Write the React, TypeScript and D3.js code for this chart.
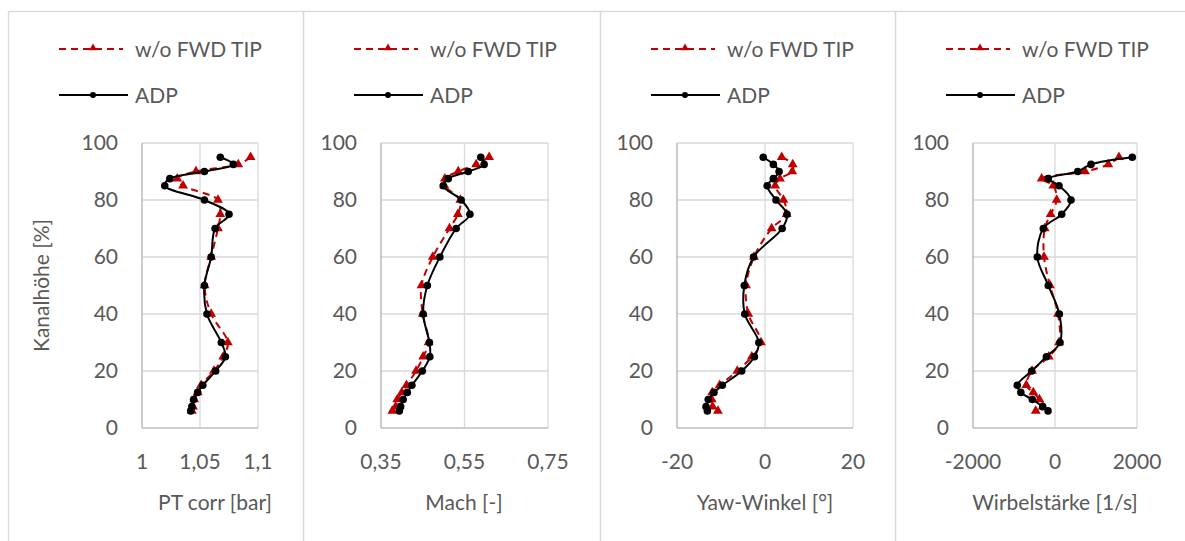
import React from 'react';
import * as d3 from 'd3';

// Kanalhöhe [%] of each traverse point
const heights = [95, 92.5, 90, 87.5, 85, 80, 75, 70, 60, 50, 40, 30, 25, 20, 15, 12.5, 10, 7.5, 6];

const ptAdp = [1.0675, 1.0787, 1.0538, 1.024, 1.0196, 1.0538, 1.075, 1.063, 1.0596, 1.0538, 1.056, 1.0684, 1.0719, 1.0635, 1.0524, 1.048, 1.0445, 1.043, 1.042];
const ptNoTip = [1.0936, 1.083, 1.0465, 1.0304, 1.0354, 1.0655, 1.0675, 1.0655, 1.0596, 1.054, 1.0596, 1.074, 1.07, 1.062, 1.051, 1.048, 1.045, 1.044, 1.043];

const machAdp = [0.589, 0.597, 0.559, 0.511, 0.499, 0.542, 0.563, 0.53, 0.491, 0.461, 0.451, 0.466, 0.467, 0.449, 0.424, 0.413, 0.403, 0.397, 0.394];
const machNoTip = [0.609, 0.578, 0.535, 0.503, 0.502, 0.54, 0.534, 0.514, 0.474, 0.447, 0.45, 0.464, 0.451, 0.434, 0.411, 0.4, 0.389, 0.385, 0.377];

const yawAdp = [-0.4, 1.9, 3.2, 1.9, 0.5, 2.5, 5.0, 3.9, -2.6, -4.7, -4.6, -1.4, -2.4, -5.3, -9.7, -11.6, -12.9, -13.4, -13.1];
const yawNoTip = [3.8, 6.3, 6.2, 3.4, 2.3, 4.2, 4.9, 1.5, -2.5, -4.3, -3.8, -0.9, -3.0, -6.3, -10.3, -12.0, -12.1, -11.9, -10.7];

const vortAdp = [1885, 878, 553, -163, 98, 390, 163, -285, -431, -163, 105, 122, -210, -568, -920, -833, -553, -300, -170];
const vortNoTip = [1560, 1300, 732, -325, -41, 41, -106, -250, -268, -122, 73, 98, -150, -560, -700, -530, -380, -300, -470];

const yTicks = [0, 20, 40, 60, 80, 100];
const seriesNames = ['w/o FWD TIP', 'ADP'];

const ptTicks = [1, 1.05, 1.1];
const machTicks = [0.35, 0.55, 0.75];
const yawTicks = [-20, 0, 20];
const vortTicks = [-2000, 0, 2000];

// German decimal comma
const fmt = (v: number) => String(v).replace('.', ',');

const RED = '#C00000';
const GRID = '#d9d9d9';
const TEXT = '#595959';
const FONT = 'Lato, "Open Sans", sans-serif';

const panels = [
  { box: 8, boxW: 295, left: 142, right: 258, title: 'PT corr [bar]', titleX: 215, ticks: ptTicks, adp: ptAdp, noTip: ptNoTip, yTitle: true },
  { box: 303, boxW: 297, left: 381, right: 548, title: 'Mach [-]', titleX: 464, ticks: machTicks, adp: machAdp, noTip: machNoTip, yTitle: false },
  { box: 600, boxW: 295, left: 677, right: 853, title: 'Yaw-Winkel [°]', titleX: 765, ticks: yawTicks, adp: yawAdp, noTip: yawNoTip, yTitle: false },
  { box: 895, boxW: 300, left: 973, right: 1137, title: 'Wirbelstärke [1/s]', titleX: 1055, ticks: vortTicks, adp: vortAdp, noTip: vortNoTip, yTitle: false },
];

const TOP = 143;
const BOTTOM = 428;

const y = d3.scaleLinear().domain([0, 100]).range([BOTTOM, TOP]);
const tri = d3.symbol(d3.symbolTriangle, 42)();
const triSmall = d3.symbol(d3.symbolTriangle, 26)();

function Panel({ p }: { p: typeof panels[number] }) {
  const x = d3.scaleLinear().domain([p.ticks[0], p.ticks[p.ticks.length - 1]]).range([p.left, p.right]);
  const line = d3.line<number>()
    .x(d => x(d))
    .y((_, i) => y(heights[i]))
    .curve(d3.curveCatmullRom);
  const lx = p.box + 51;
  return (
    <g>
      <rect x={p.box + 0.5} y={11.5} width={p.boxW} height={560} fill="none" stroke={GRID} strokeWidth={1.3} />
      {/* legend */}
      <line x1={lx} x2={lx + 64} y1={49} y2={49} stroke={RED} strokeWidth={2} strokeDasharray="7,5" />
      <path d={triSmall} transform={`translate(${lx + 34},48)`} fill={RED} />
      <text x={lx + 76} y={57} fill={TEXT} fontSize={21} fontFamily={FONT}>{seriesNames[0]}</text>
      <line x1={lx} x2={lx + 69} y1={95} y2={95} stroke="#000" strokeWidth={2} />
      <circle cx={lx + 34} cy={95} r={3} fill="#000" />
      <text x={lx + 76} y={103} fill={TEXT} fontSize={21} fontFamily={FONT}>{seriesNames[1]}</text>

      {/* grid */}
      {yTicks.slice(1).map(t => (
        <line key={'h' + t} x1={p.left} x2={p.right} y1={y(t)} y2={y(t)} stroke={GRID} strokeWidth={1.3} />
      ))}
      {p.ticks.slice(1).map(t => (
        <line key={'v' + t} x1={x(t)} x2={x(t)} y1={TOP} y2={BOTTOM} stroke={GRID} strokeWidth={1.3} />
      ))}
      <line x1={p.left} x2={p.left} y1={TOP} y2={BOTTOM} stroke="#bfbfbf" strokeWidth={1.6} />
      <line x1={p.left} x2={p.right} y1={BOTTOM} y2={BOTTOM} stroke="#bfbfbf" strokeWidth={1.6} />

      {/* tick labels */}
      {yTicks.map(t => (
        <text key={'yl' + t} x={p.left - 24} y={y(t)} dy="0.35em" textAnchor="end" fill={TEXT} fontSize={21} fontFamily={FONT}>{t}</text>
      ))}
      {p.ticks.map(t => (
        <text key={'xl' + t} x={x(t)} y={469} textAnchor="middle" fill={TEXT} fontSize={21} fontFamily={FONT}>{fmt(t)}</text>
      ))}
      <text x={p.titleX} y={510} textAnchor="middle" fill={TEXT} fontSize={21} fontFamily={FONT}>{p.title}</text>
      {p.yTitle && (
        <text transform={`translate(49,${(TOP + BOTTOM) / 2}) rotate(-90)`} textAnchor="middle" fill={TEXT} fontSize={21} fontFamily={FONT}>Kanalhöhe [%]</text>
      )}

      {/* series */}
      <path d={line(p.noTip) || ''} fill="none" stroke={RED} strokeWidth={2} strokeDasharray="7,5" />
      {p.noTip.map((v, i) => (
        <path key={'t' + i} d={tri} transform={`translate(${x(v)},${y(heights[i])})`} fill={RED} />
      ))}
      <path d={line(p.adp) || ''} fill="none" stroke="#000" strokeWidth={2} />
      {p.adp.map((v, i) => (
        <circle key={'c' + i} cx={x(v)} cy={y(heights[i])} r={3.8} fill="#000" />
      ))}
    </g>
  );
}

export default function App() {
  return (
    <svg width={1185} height={541} style={{ position: 'absolute', left: 0, top: 0, background: '#fff' }}>
      <rect width={1185} height={541} fill="#fff" />
      {panels.map((p, i) => <Panel key={i} p={p} />)}
    </svg>
  );
}
